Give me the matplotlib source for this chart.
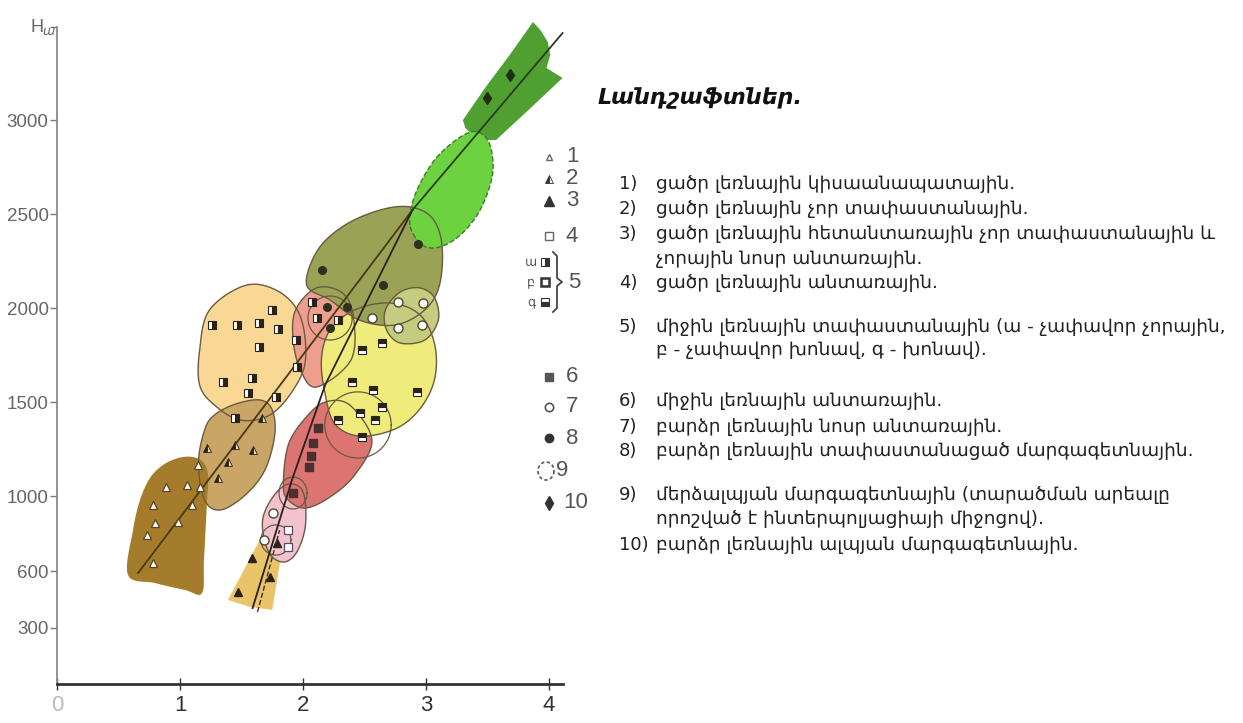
import numpy as np
import matplotlib
matplotlib.use("Agg")
import matplotlib.pyplot as plt
from matplotlib.patches import Polygon

# ---------------- data (x index, elevation in m) ----------------
y_ticks = [300, 600, 1000, 1500, 2000, 2500, 3000]
x_ticks = [0, 1, 2, 3, 4]
x_tick_labels = ["0", "1", "2", "3", "4"]

# region outlines
r1_x = [0.577, 0.618, 0.675, 0.756, 0.862, 0.984, 1.098, 1.187, 1.228, 1.220, 1.195, 1.179, 1.041, 0.797]
r1_h = [580, 819, 979, 1096, 1165, 1202, 1208, 1181, 1112, 979, 660, 484, 500, 537]
r2_x = [1.15, 1.20, 1.28, 1.45, 1.65, 1.75, 1.77, 1.69, 1.53, 1.33, 1.20]
r2_h = [1173, 1351, 1431, 1489, 1511, 1458, 1324, 1138, 1005, 926, 979]
r3_x = [1.39, 1.67, 1.72, 1.80, 1.85, 1.75, 1.57]
r3_h = [447, 793, 835, 835, 793, 394, 410]
r4_x = [1.16, 1.24, 1.54, 1.81, 1.98, 2.02, 1.92, 1.73, 1.49, 1.28, 1.16]
r4_h = [1777, 1990, 2122, 2085, 1952, 1724, 1564, 1431, 1404, 1484, 1590]
rp_x = [1.67, 1.75, 1.88, 2.00, 2.02, 1.95, 1.84, 1.72]
rp_h = [862, 990, 1064, 1022, 846, 702, 649, 702]
r6_x = [1.84, 1.88, 2.02, 2.18, 2.38, 2.56, 2.42, 2.22, 2.02, 1.88]
r6_h = [1059, 1271, 1415, 1500, 1484, 1298, 1112, 995, 936, 979]
rs_x = [1.94, 2.11, 2.32, 2.41, 2.39, 2.11, 1.98, 1.92]
rs_h = [1990, 2107, 2081, 1952, 1724, 1580, 1670, 1830]
ry_x = [2.22, 2.42, 2.71, 2.95, 3.07, 3.07, 2.95, 2.75, 2.46, 2.26, 2.18, 2.15]
ry_h = [1883, 1990, 2027, 1964, 1808, 1622, 1463, 1357, 1319, 1383, 1543, 1729]
ro_x = [2.03, 2.12, 2.34, 2.63, 2.87, 3.05, 3.13, 3.11, 2.99, 2.75, 2.46, 2.22]
ro_h = [2123, 2309, 2441, 2522, 2538, 2479, 2336, 2123, 1990, 1910, 1936, 2043]
rlo_x = [2.67, 2.79, 2.95, 3.07, 3.10, 2.99, 2.79, 2.68]
rlo_h = [1990, 2085, 2107, 2054, 1936, 1830, 1814, 1883]
rg_x = [2.87, 2.91, 3.07, 3.28, 3.42, 3.52, 3.54, 3.44, 3.28, 3.11, 2.97]
rg_h = [2442, 2601, 2788, 2910, 2937, 2867, 2708, 2522, 2389, 2325, 2336]
rdg_x = [3.30, 3.48, 3.68, 3.87, 3.93, 3.99, 4.01, 3.98, 4.11, 3.85, 3.57, 3.48, 3.38, 3.32]
rdg_h = [3000, 3171, 3346, 3522, 3479, 3415, 3346, 3277, 3224, 3064, 2894, 2894, 2921, 2958]

# inner boundary rings
ring_x = [2.447, 2.22, 1.919, 1.78]
ring_h = [1378, 1947, 1016, 766]
ring_w = [0.27, 0.18, 0.114, 0.122]
ring_hh = [176, 117, 85, 80]

# trend lines
trend1_x = [0.66, 2.89]
trend1_h = [591, 2522]
trend2_x = [1.59, 1.91, 2.18, 2.89]
trend2_h = [404, 1085, 1591, 2522]
trend3_x = [2.89, 4.11]
trend3_h = [2522, 3463]
trend4_x = [1.63, 1.81]
trend4_h = [383, 819]

# sample points by landscape type
m1_x = [0.886, 1.057, 0.780, 1.098, 0.797, 0.984, 0.732, 0.780, 1.163, 1.146]
m1_h = [1048, 1059, 952, 952, 857, 862, 793, 644, 1048, 1165]
m2_x = [1.220, 1.447, 1.593, 1.390, 1.309, 1.667]
m2_h = [1256, 1271, 1245, 1181, 1096, 1415]
m3_x = [1.472, 1.585, 1.732, 1.789]
m3_h = [489, 670, 569, 750]
m4_x = [1.878, 1.878]
m4_h = [819, 729]
m5a_x = [1.260, 1.463, 1.642, 1.748, 1.797, 1.642, 1.943, 1.350, 1.585, 1.553, 1.780, 1.951, 1.447, 2.073, 2.114, 2.285]
m5a_h = [1910, 1910, 1920, 1990, 1889, 1793, 1830, 1607, 1628, 1548, 1527, 1686, 1415, 2032, 1947, 1936]
m5c_x = [2.480, 2.642, 2.398, 2.569, 2.927, 2.285, 2.463, 2.585, 2.642, 2.480]
m5c_h = [1777, 1814, 1607, 1564, 1553, 1404, 1442, 1404, 1474, 1314]
m6_x = [2.122, 2.081, 2.065, 2.049, 1.919]
m6_h = [1362, 1282, 1213, 1154, 1016]
m7_x = [2.772, 2.976, 2.772, 2.967, 2.561, 1.756, 1.683]
m7_h = [2032, 2027, 1894, 1910, 1947, 910, 766]
m8_x = [2.154, 2.650, 2.935, 2.195, 2.358, 2.220]
m8_h = [2202, 2123, 2341, 2006, 2006, 1894]
m10_x = [3.496, 3.683]
m10_h = [3117, 3240]

title = "Լանդշաֆտներ."
legend_nums = ["1)", "2)", "3)", "", "4)", "5)", "", "6)", "7)", "8)", "9)", "", "10)"]
legend_lines = [
    "ցածր լեռնային կիսաանապատային.",
    "ցածր լեռնային չոր տափաստանային.",
    "ցածր լեռնային հետանտառային չոր տափաստանային և",
    "չորային նոսր անտառային.",
    "ցածր լեռնային անտառային.",
    "միջին լեռնային տափաստանային (ա - չափավոր չորային,",
    "բ - չափավոր խոնավ, գ - խոնավ).",
    "միջին լեռնային անտառային.",
    "բարձր լեռնային նոսր անտառային.",
    "բարձր լեռնային տափաստանացած մարգագետնային.",
    "մերձալպյան մարգագետնային (տարածման արեալը",
    "որոշված է ինտերպոլյացիայի միջոցով).",
    "բարձր լեռնային ալպյան մարգագետնային.",
]

# ---------------- helpers ----------------
def smooth_closed(xs, ys, n=24):
    P = np.column_stack([xs, ys]).astype(float)
    N = len(P)
    t = np.linspace(0, 1, n, endpoint=False)[:, None]
    out = []
    for i in range(N):
        p0, p1, p2, p3 = P[i - 1], P[i], P[(i + 1) % N], P[(i + 2) % N]
        out.append(0.5 * ((2 * p1) + (-p0 + p2) * t + (2 * p0 - 5 * p1 + 4 * p2 - p3) * t ** 2
                          + (-p0 + 3 * p1 - 3 * p2 + p3) * t ** 3))
    return np.vstack(out)

W, H = 1243, 723
fig = plt.figure(figsize=(W / 100, H / 100), dpi=100)
fig.patch.set_facecolor("white")
ax = fig.add_axes([57 / W, (H - 684) / H, (563 - 57) / W, (684 - 27) / H])
ax.set_xlim(0, 506 / 123)
ax.set_ylim(0, 657 * 5.32)
ax.patch.set_alpha(0)

edge = "#6a5a42"
regions = [
    (r4_x, r4_h, "#F8D894", True, "-"),
    (r2_x, r2_h, "#C9A566", True, "-"),
    (r1_x, r1_h, "#A47C2C", True, None),
    (r3_x, r3_h, "#E9C46A", False, None),
    (rp_x, rp_h, "#F2C3CF", True, "-"),
    (r6_x, r6_h, "#DC7572", True, "-"),
    (rs_x, rs_h, "#EE9E8E", True, "-"),
    (ry_x, ry_h, "#EFEC7C", True, "-"),
    (ro_x, ro_h, "#9AA255", True, "-"),
    (rlo_x, rlo_h, "#C5CC80", True, "-"),
    (rdg_x, rdg_h, "#4FA030", False, None),
    (rg_x, rg_h, "#6DD23F", True, "--"),
]
outlines = []
for xs, hs, col, smooth, ls in regions:
    pts = smooth_closed(xs, hs) if smooth else np.column_stack([xs, hs])
    ax.add_patch(Polygon(pts, closed=True, facecolor=col, edgecolor="none", zorder=2, clip_on=False))
    outlines.append((pts, ls))
for pts, ls in outlines:
    if ls is None:
        continue
    c = "#3f7a2c" if ls == "--" else edge
    ax.add_patch(Polygon(pts, closed=True, facecolor="none", edgecolor=c, lw=1.0,
                         linestyle=ls, zorder=3, clip_on=False))

tt = np.linspace(0, 2 * np.pi, 100)
for cx, ch, w, hh in zip(ring_x, ring_h, ring_w, ring_hh):
    ax.plot(cx + w * np.cos(tt), ch + hh * np.sin(tt), color=edge, lw=0.9, zorder=3)

ax.plot(trend1_x, trend1_h, color="#4a3a10", lw=1.3, zorder=4)
ax.plot(trend2_x, trend2_h, color="#2a2020", lw=1.3, zorder=4)
ax.plot(trend3_x, trend3_h, color="#2c3a20", lw=1.3, zorder=4, clip_on=False)
ax.plot(trend4_x, trend4_h, color="#3a3020", lw=1.0, ls="--", zorder=4)

dk = "#2b2218"
ms = 5.5
ax.plot(m1_x, m1_h, "^", ms=ms, mfc="white", mec="#5a4520", mew=0.9, ls="none", zorder=5)
ax.plot(m2_x, m2_h, "^", ms=ms, mfc=dk, mfcalt="#e8d8b0", fillstyle="left", mec=dk, mew=0.6, ls="none", zorder=5)
ax.plot(m3_x, m3_h, "^", ms=ms, mfc=dk, mec=dk, ls="none", zorder=5)
ax.plot(m4_x, m4_h, "s", ms=ms, mfc="white", mec="#5a4a6a", mew=0.9, ls="none", zorder=5)
ax.plot(m5a_x, m5a_h, "s", ms=ms, mfc=dk, mfcalt="white", fillstyle="right", mec=dk, mew=0.8, ls="none", zorder=5)
ax.plot(m5c_x, m5c_h, "s", ms=ms, mfc=dk, mfcalt="white", fillstyle="top", mec=dk, mew=0.8, ls="none", zorder=5)
ax.plot(m6_x, m6_h, "s", ms=ms, mfc="#4a3030", mec="#4a3030", ls="none", zorder=5)
ax.plot(m7_x, m7_h, "o", ms=ms + 1, mfc="white", mec="#4a4a30", mew=1.0, ls="none", zorder=5)
ax.plot(m8_x, m8_h, "o", ms=ms, mfc="#2e3020", mec="#2e3020", ls="none", zorder=5)
ax.plot(m10_x, m10_h, "d", ms=ms + 1, mfc="#1e2e14", mec="#1e2e14", ls="none", zorder=5)

# axes styling
nf = ["Liberation Sans", "DejaVu Sans"]
for s in ["top", "right"]:
    ax.spines[s].set_visible(False)
ax.spines["left"].set_color("#8a8a8a")
ax.spines["left"].set_linewidth(1.3)
ax.spines["bottom"].set_color("#333333")
ax.spines["bottom"].set_linewidth(2.0)
ax.set_yticks(y_ticks + [657 * 5.32])
ax.set_yticklabels([str(v) for v in y_ticks] + [""])
ax.tick_params(axis="y", direction="out", length=5, width=1, colors="#777777", pad=1)
for lab in ax.get_yticklabels():
    lab.set_fontfamily(nf)
    lab.set_fontsize(13.5)
    lab.set_color("#666666")
ax.set_xticks(x_ticks)
ax.set_xticklabels(x_tick_labels)
ax.tick_params(axis="x", direction="inout", length=8, width=1, colors="#333333", pad=4)
for i, lab in enumerate(ax.get_xticklabels()):
    lab.set_fontfamily(nf)
    lab.set_fontsize(16)
    lab.set_color("#bbbbbb" if i == 0 else "#333333")

# overlay in pixel coordinates for legend & text
lax = fig.add_axes([0, 0, 1, 1])
lax.set_xlim(0, W)
lax.set_ylim(H, 0)
lax.axis("off")
lax.text(37, 27, "H", fontsize=13, color="#666", ha="center", va="center", family=nf)
lax.text(48, 31, "ա", fontsize=9, color="#666", ha="center", va="center", style="italic")

lg = "#555555"
mx = 549
lax.plot(mx, 157, "^", ms=5, mfc="white", mec="#666", mew=1)
lax.plot(mx, 179, "^", ms=6, mfc="#333", mfcalt="white", fillstyle="left", mec="#333", mew=0.6)
lax.plot(mx, 201, "^", ms=7, mfc="#333", mec="#333")
lax.plot(mx, 236, "s", ms=5.5, mfc="white", mec="#666", mew=1)
lax.plot(545, 262, "s", ms=6, mfc="#333", mfcalt="white", fillstyle="right", mec="#333", mew=0.8)
lax.plot(545, 282, "s", ms=6, mfc="white", mec="#333", mew=1.8)
lax.plot(545, 302, "s", ms=6, mfc="#333", mfcalt="white", fillstyle="bottom", mec="#333", mew=0.8)
lax.plot(mx, 377, "s", ms=5.5, mfc="#555", mec="#555")
lax.plot(mx, 407, "o", ms=6, mfc="white", mec="#555", mew=1.2)
lax.plot(mx, 438, "o", ms=6, mfc="#333", mec="#333")
lax.plot(546 + 8 * np.cos(tt), 471 + 9 * np.sin(tt), color="#555", lw=1.2, ls=(0, (2, 1.5)))
lax.plot(mx, 503, "d", ms=7, mfc="#333", mec="#333")
for txt, yy, xx in [("1", 157, 566), ("2", 179, 566), ("3", 201, 566), ("4", 236, 566),
                    ("6", 377, 566), ("7", 407, 566), ("8", 438, 566), ("9", 471, 556),
                    ("10", 503, 563), ("5", 282, 568)]:
    lax.text(xx, yy, txt, fontsize=16, color=lg, ha="left", va="center", family=nf)
for txt, yy in [("ա", 262), ("բ", 282), ("գ", 302)]:
    lax.text(531, yy, txt, fontsize=9, color=lg, ha="center", va="center")
lax.plot([553, 557, 557, 562, 557, 557, 553], [252, 256, 278, 282, 286, 308, 312], color="#444", lw=1.3)

# right-hand explanation text
lax.text(598, 98, title, fontsize=16, fontweight="bold", style="italic", color="#111",
         ha="left", va="center", family=["DejaVu Sans"])
row_y = [184, 209, 234, 259, 283, 327, 350, 401, 427, 451, 495, 519, 545]
for num, line, yy in zip(legend_nums, legend_lines, row_y):
    if num:
        lax.text(619, yy, num, fontsize=13, color="#222", ha="left", va="center", family=["DejaVu Sans"])
    lax.text(656, yy, line, fontsize=13.3, color="#222", ha="left", va="center", family=["DejaVu Sans"])

fig.savefig("out.png", dpi=100, facecolor="white")
